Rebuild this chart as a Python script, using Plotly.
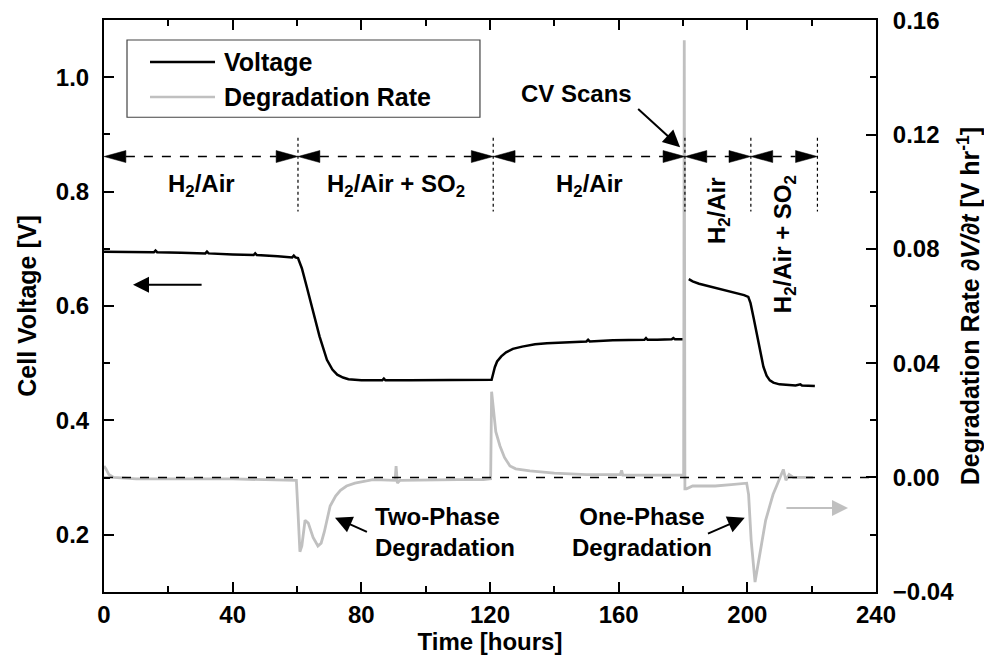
import plotly.graph_objects as go

# ---------------- data ----------------
volt_t = [0, 8, 15.5, 16, 16.5, 24, 31.5, 32, 32.5, 40, 46.5, 47, 47.5, 54, 58.5, 59, 59.5, 60.3,
          61.5, 63, 65, 67, 69.3, 71, 72.5, 74.3, 76, 78, 80, 85, 86.5, 87, 87.5, 95, 105, 115, 120.5,
          121, 121.5, 122.2, 123.5, 125, 127.1, 130, 134, 137.7, 145, 150, 150.5, 151, 158.2, 165,
          168, 168.5, 169, 172, 175, 176.5, 177, 177.5, 180.3]
volt_v = [0.695, 0.695, 0.694, 0.697, 0.694, 0.693, 0.692, 0.695, 0.692, 0.690, 0.689, 0.692, 0.689,
          0.687, 0.685, 0.688, 0.685, 0.684,
          0.666, 0.634, 0.590, 0.547, 0.506, 0.489, 0.480, 0.475, 0.472, 0.471, 0.470, 0.470, 0.470,
          0.473, 0.470, 0.470, 0.470, 0.470, 0.471,
          0.482, 0.493, 0.503, 0.512, 0.519, 0.525, 0.529, 0.533, 0.535, 0.537, 0.538, 0.541, 0.538,
          0.540, 0.541, 0.541, 0.544, 0.541, 0.541, 0.542, 0.542, 0.544, 0.542, 0.542]

volt2_t = [181.8, 183, 185, 190, 195, 199, 200.3, 201, 202, 202.9, 204, 205, 206, 207, 208.1, 210,
           215, 216.5, 217, 221]
volt2_v = [0.647, 0.643, 0.639, 0.632, 0.625, 0.619, 0.616, 0.605, 0.578, 0.552, 0.521, 0.494, 0.478,
           0.470, 0.466, 0.463, 0.461, 0.463, 0.461, 0.460]

rate_t = [0, 0.6, 1.5, 3, 10, 20, 30, 40, 50, 57, 59.8, 60.3, 60.9, 61.5, 62.5, 63.5, 65, 66.5, 67.5,
          68.5, 70.3, 72, 73.5, 75.4, 78, 83.6, 88, 90.5, 90.8, 91.2, 92, 100, 110, 118, 120.2, 120.5,
          121, 121.8, 123.1, 124.5, 126.2, 128, 132.4, 140, 150, 160.5, 160.9, 161.3, 170, 178, 180.2,
          180.4, 180.6, 181.1, 183, 186, 190, 195, 199.8, 200.4, 201.2, 202.4, 203.3, 204.4, 205.7,
          207, 208, 209.1, 210.3, 211.2, 212, 213, 214.3, 217, 220.4]
rate_v = [0.004, 0.003, 0.001, 0.0, -0.0005, -0.0005, -0.0005, -0.0005, -0.0008, -0.0008,
          -0.001, -0.012, -0.026, -0.024, -0.015, -0.016, -0.021, -0.024, -0.023, -0.019,
          -0.010, -0.0065, -0.0045, -0.003, -0.002, -0.0008, -0.001, -0.001, 0.004, -0.002,
          -0.001, -0.0008, -0.0008, -0.0008, -0.0005, 0.030, 0.024, 0.016, 0.011, 0.007,
          0.004, 0.003, 0.0023, 0.0015, 0.001, 0.001, 0.0025, 0.0008, 0.0008, 0.0008,
          0.0008, 0.153, -0.004, -0.004, -0.003, -0.003, -0.003, -0.0025, -0.002, -0.006,
          -0.022, -0.0366, -0.031, -0.024, -0.015, -0.0099, -0.006, -0.003, 0.0, 0.0028,
          -0.001, 0.001, 0.0, 0.0, 0.0]

# experimental phases (boundaries in hours) and their labels
phase_bounds = [0, 60.3, 121, 180.6, 201.1, 221.8]
phase_labels = ["H<sub>2</sub>/Air", "H<sub>2</sub>/Air + SO<sub>2</sub>", "H<sub>2</sub>/Air",
                "H<sub>2</sub>/Air", "H<sub>2</sub>/Air + SO<sub>2</sub>"]
series_names = ["Voltage", "Degradation Rate"]

x_ticks = [0, 40, 80, 120, 160, 200, 240]

# ---------------- styling ----------------
FONT = "Liberation Sans, Arial, sans-serif"
BLACK = "black"
GRAY = "rgb(192,192,192)"
FS = 24

fig = go.Figure()
fig.add_trace(go.Scatter(x=volt_t, y=volt_v, mode="lines", name=series_names[0],
                         line=dict(color=BLACK, width=2.5), showlegend=False))
fig.add_trace(go.Scatter(x=volt2_t, y=volt2_v, mode="lines", name=series_names[0],
                         line=dict(color=BLACK, width=2.5), showlegend=False))
fig.add_trace(go.Scatter(x=rate_t, y=rate_v, mode="lines", name=series_names[1], yaxis="y2",
                         line=dict(color=GRAY, width=2.8), showlegend=False))

axis_common = dict(showline=True, linecolor=BLACK, linewidth=2, ticks="inside", ticklen=10,
                   tickwidth=2, tickcolor=BLACK, showgrid=False, zeroline=False, automargin=False,
                   tickfont=dict(family=FONT, size=FS, color=BLACK, weight="bold"))

fig.update_layout(
    width=984, height=664,
    margin=dict(l=104, r=108, t=20, b=72),
    paper_bgcolor="white", plot_bgcolor="white",
    font=dict(family=FONT, color=BLACK),
    xaxis=dict(range=[-0.01, 240.01], tickvals=x_ticks, mirror="ticks",
               minor=dict(ticks="inside", ticklen=6, tickwidth=2, tickcolor=BLACK, dtick=20, tick0=0),
               title=dict(text="Time [hours]", standoff=2,
                          font=dict(family=FONT, size=FS, weight="bold")),
               ticklabelstandoff=0, **axis_common),
    yaxis=dict(range=[0.1, 1.1], dtick=0.2, tick0=0.2, tickformat=".1f",
               minor=dict(ticks="inside", ticklen=6, tickwidth=2, tickcolor=BLACK, dtick=0.1, tick0=0.1),
               title=dict(text="Cell Voltage [V]", standoff=12,
                          font=dict(family=FONT, size=25, weight="bold")),
               ticklabelstandoff=8, **axis_common),
    yaxis2=dict(range=[-0.0401, 0.1601], dtick=0.04, tick0=0, tickformat=".2f", overlaying="y",
                side="right", anchor="x",
                minor=dict(ticks="inside", ticklen=6, tickwidth=2, tickcolor=BLACK, dtick=0.02, tick0=0),
                title=dict(text="Degradation Rate <i>∂V/∂t</i> [V hr<sup>-1</sup>]", standoff=10,
                           font=dict(family=FONT, size=25, weight="bold")),
                ticklabelstandoff=10, **axis_common),
)

shapes = []
annotations = []

# zero line of degradation rate
shapes.append(dict(type="line", xref="x domain", yref="y2", x0=0, x1=1, y0=0, y1=0,
                   line=dict(color=BLACK, width=1.5, dash="dash"), layer="above"))

# phase brackets
yb = 0.8613          # bracket level on voltage axis
L = 6.8              # arrowhead length (hours)
h = 0.0105           # arrowhead half height (V)
for a, b in zip(phase_bounds[:-1], phase_bounds[1:]):
    shapes.append(dict(type="path", xref="x", yref="y",
                       path=f"M {a},{yb} L {a+L},{yb+h} L {a+L},{yb-h} Z",
                       fillcolor=BLACK, line=dict(color=BLACK, width=0.5)))
    shapes.append(dict(type="path", xref="x", yref="y",
                       path=f"M {b},{yb} L {b-L},{yb+h} L {b-L},{yb-h} Z",
                       fillcolor=BLACK, line=dict(color=BLACK, width=0.5)))
    shapes.append(dict(type="line", xref="x", yref="y", x0=a + L, x1=b - L, y0=yb, y1=yb,
                       line=dict(color=BLACK, width=1.5, dash="dash")))
for b in phase_bounds[1:]:
    shapes.append(dict(type="line", xref="x", yref="y", x0=b, x1=b, y0=0.894, y1=0.765,
                       line=dict(color=BLACK, width=1.2, dash="dot")))

lab_font = dict(family=FONT, size=FS, color=BLACK, weight="bold")
# horizontal phase labels
for i in range(3):
    annotations.append(dict(x=(phase_bounds[i] + phase_bounds[i + 1]) / 2, y=0.81, xref="x", yref="y",
                            text=phase_labels[i], showarrow=False, font=lab_font))
# rotated phase labels
annotations.append(dict(x=190.9, y=0.766, xref="x", yref="y", text=phase_labels[3], textangle=-90,
                        showarrow=False, font=lab_font))
annotations.append(dict(x=211.4, y=0.708, xref="x", yref="y", text=phase_labels[4], textangle=-90,
                        showarrow=False, font=lab_font))

# axis-indicating arrows
annotations.append(dict(x=9.0, y=0.637, ax=30.8, ay=0.637, xref="x", yref="y", axref="x", ayref="y",
                        text="", showarrow=True, arrowhead=2, arrowsize=1.6, arrowwidth=2,
                        arrowcolor=BLACK))
annotations.append(dict(x=231.3, y=-0.0107, ax=211.7, ay=-0.0107, xref="x", yref="y2", axref="x",
                        ayref="y2", text="", showarrow=True, arrowhead=2, arrowsize=1.6, arrowwidth=2,
                        arrowcolor=GRAY))

# callouts
annotations.append(dict(x=83.6, y=0.2054, xref="x", yref="y", text="Two-Phase<br>Degradation",
                        xanchor="left", align="left", showarrow=False, font=lab_font))
annotations.append(dict(x=71.8, y=0.230, ax=82.2, ay=0.204, xref="x", yref="y", axref="x", ayref="y",
                        text="", showarrow=True, arrowhead=2, arrowsize=1.7, arrowwidth=2,
                        arrowcolor=BLACK))
annotations.append(dict(x=167.2, y=0.2054, xref="x", yref="y", text="One-Phase<br>Degradation",
                        align="center", showarrow=False, font=lab_font))
annotations.append(dict(x=199.2, y=0.230, ax=187.3, ay=0.201, xref="x", yref="y", axref="x", ayref="y",
                        text="", showarrow=True, arrowhead=2, arrowsize=1.7, arrowwidth=2,
                        arrowcolor=BLACK))
annotations.append(dict(x=147, y=0.971, xref="x", yref="y", text="CV Scans", showarrow=False,
                        font=lab_font))
annotations.append(dict(x=179.1, y=0.8775, ax=165.6, ay=0.947, xref="x", yref="y", axref="x",
                        ayref="y", text="", showarrow=True, arrowhead=2, arrowsize=1.7, arrowwidth=2,
                        arrowcolor=BLACK))

# legend box (drawn in plot-area fractions)
shapes.append(dict(type="rect", xref="paper", yref="paper", x0=0.0298, x1=0.487, y0=0.830, y1=0.965,
                   line=dict(color="#444", width=1.2), fillcolor="white", layer="above"))
leg_rows = [(0.9266, BLACK), (0.8654, GRAY)]
for (yy, col), name in zip(leg_rows, series_names):
    shapes.append(dict(type="line", xref="paper", yref="paper", x0=0.0596, x1=0.1438, y0=yy, y1=yy,
                       line=dict(color=col, width=2.5), layer="above"))
    annotations.append(dict(x=0.1528, y=yy, xref="paper", yref="paper", text=name, xanchor="left",
                            yanchor="middle", showarrow=False,
                            font=dict(family=FONT, size=25, color=BLACK, weight="bold")))

fig.update_layout(shapes=shapes, annotations=annotations)
fig.write_html("out.html", config={"displayModeBar": False},
               post_script="document.body.style.margin='0';")
